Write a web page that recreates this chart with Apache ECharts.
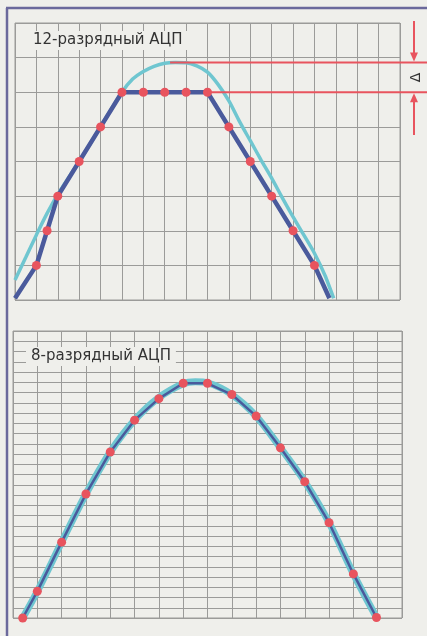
<!DOCTYPE html>
<html>
<head>
<meta charset="utf-8">
<script src="https://cdn.jsdelivr.net/npm/echarts@6/dist/echarts.min.js"></script>
<style>
html,body{margin:0;padding:0;background:#efefeb;}
#c{width:427px;height:636px;}
</style>
</head>
<body>
<div id="c"></div>
<script>
// ---- data (grid units) ----
const topTitle = '12-разрядный АЦП';
const bottomTitle = '8-разрядный АЦП';
// top: quantized/clipped samples (line), first/last are line ends without dots
const topSampleX = [0, 1, 1.5, 2, 3, 4, 5, 6, 7, 8, 9, 10, 11, 12, 13, 14, 14.7];
const topSampleY = [0.05, 1, 2, 3, 4, 5, 6, 6, 6, 6, 6, 5, 4, 3, 2, 1, 0.05];
// top: true signal
const topTrueX = [0, 0.5, 1, 1.5, 2, 3, 4, 5, 5.5, 6, 6.5, 7, 7.5, 8, 8.5, 9, 9.5, 10, 10.5, 11, 11.5, 12, 12.5, 13, 13.5, 14, 14.5, 14.9];
const topTrueY = [0.58, 1.23, 1.88, 2.5, 3.05, 4.0, 5.0, 6.0, 6.38, 6.6, 6.75, 6.84, 6.86, 6.85, 6.76, 6.58, 6.22, 5.75, 5.15, 4.6, 4.05, 3.52, 2.95, 2.4, 1.88, 1.35, 0.7, 0.05];
// Δ annotation levels
const deltaTopPoint = [7.25, 6.86];
const deltaBottomPoint = [9, 6];
// bottom: samples
const botSampleX = [0.4, 1, 2, 3, 4, 5, 6, 7, 8, 9, 10, 11, 12, 13, 14, 14.95];
const botSampleY = [0, 2.6, 7.4, 12.1, 16.2, 19.3, 21.4, 22.9, 22.9, 21.8, 19.7, 16.6, 13.3, 9.3, 4.3, 0.05];
// bottom: true signal
const botTrueX = [0.4, 1, 2, 3, 4, 5, 6, 7, 7.5, 8, 9, 10, 11, 12, 13, 14, 14.95];
const botTrueY = [0, 2.6, 7.4, 12.1, 16.2, 19.3, 21.5, 22.85, 23.05, 22.95, 21.8, 19.7, 16.6, 13.3, 9.3, 4.3, 0.05];

const pair = (xs, ys) => xs.map((x, i) => [x, ys[i]]);

const GRID = '#9b9b99';
const CYAN = '#6fc6d0';
const BLUE = '#4a5a9c';
const RED = '#e8545e';
const BG = '#efefeb';

const chart = echarts.init(document.getElementById('c'), null, {renderer: 'canvas'});

function axis(gi, max) {
  return {
    type: 'value', gridIndex: gi, min: 0, max: max, interval: 1,
    axisLine: {show: false}, axisTick: {show: false}, axisLabel: {show: false},
    splitLine: {show: true, lineStyle: {color: GRID, width: 1}}
  };
}

const titleStyle = {fontSize: 15, fontWeight: 'normal', color: '#333', fontFamily: 'DejaVu Sans'};

chart.setOption({
  backgroundColor: BG,
  animation: false,
  title: [
    {text: topTitle, left: 28, top: 31, padding: [2, 5, 2, 5], backgroundColor: BG, textStyle: titleStyle},
    {text: bottomTitle, left: 26, top: 347, padding: [2, 5, 2, 5], backgroundColor: BG, textStyle: titleStyle}
  ],
  grid: [
    {left: 15, top: 23, width: 385, height: 277, show: true, borderColor: GRID, borderWidth: 1, backgroundColor: 'transparent'},
    {left: 13, top: 331, width: 389, height: 287, show: true, borderColor: GRID, borderWidth: 1, backgroundColor: 'transparent'}
  ],
  xAxis: [axis(0, 18), axis(1, 16)],
  yAxis: [axis(0, 8), axis(1, 28)],
  series: [
    {type: 'line', xAxisIndex: 0, yAxisIndex: 0, data: pair(topTrueX, topTrueY), smooth: 0.3, showSymbol: false,
     lineStyle: {color: CYAN, width: 3.5}, z: 2},
    {type: 'line', xAxisIndex: 0, yAxisIndex: 0, data: pair(topSampleX, topSampleY), showSymbol: false,
     lineStyle: {color: BLUE, width: 4.5}, z: 3},
    {type: 'scatter', xAxisIndex: 0, yAxisIndex: 0, data: pair(topSampleX, topSampleY).slice(1, -1), symbolSize: 9,
     itemStyle: {color: RED, opacity: 1}, z: 4},
    {type: 'line', xAxisIndex: 1, yAxisIndex: 1, data: pair(botTrueX, botTrueY), smooth: 0.3, showSymbol: false,
     lineStyle: {color: CYAN, width: 7}, z: 2},
    {type: 'line', xAxisIndex: 1, yAxisIndex: 1, data: pair(botSampleX, botSampleY), showSymbol: false,
     lineStyle: {color: BLUE, width: 2.5}, z: 3},
    {type: 'scatter', xAxisIndex: 1, yAxisIndex: 1, data: pair(botSampleX, botSampleY), symbolSize: 9,
     itemStyle: {color: RED, opacity: 1}, z: 4}
  ]
});

// annotations from the library's scale
const p1 = chart.convertToPixel({gridIndex: 0}, deltaTopPoint);
const p2 = chart.convertToPixel({gridIndex: 0}, deltaBottomPoint);
const W = 427, ax = 414;
chart.setOption({
  graphic: [
    {type: 'line', shape: {x1: 7, y1: 8, x2: 7, y2: 636}, style: {stroke: '#6b699c', lineWidth: 2.5}, z: 10},
    {type: 'line', shape: {x1: 6, y1: 8, x2: W, y2: 8}, style: {stroke: '#6b699c', lineWidth: 2.5}, z: 10},
    {type: 'line', shape: {x1: p1[0], y1: p1[1], x2: W, y2: p1[1]}, style: {stroke: RED, lineWidth: 2}, z: 10},
    {type: 'line', shape: {x1: p2[0], y1: p2[1], x2: W, y2: p2[1]}, style: {stroke: RED, lineWidth: 2}, z: 10},
    {type: 'line', shape: {x1: ax, y1: 21, x2: ax, y2: p1[1] - 8}, style: {stroke: RED, lineWidth: 2}, z: 10},
    {type: 'polygon', shape: {points: [[ax - 4, p1[1] - 10], [ax + 4, p1[1] - 10], [ax, p1[1] - 1]]}, style: {fill: RED}, z: 10},
    {type: 'line', shape: {x1: ax, y1: 135, x2: ax, y2: p2[1] + 8}, style: {stroke: RED, lineWidth: 2}, z: 10},
    {type: 'polygon', shape: {points: [[ax - 4, p2[1] + 10], [ax + 4, p2[1] + 10], [ax, p2[1] + 1]]}, style: {fill: RED}, z: 10},
    {type: 'text', x: ax + 2, y: (p1[1] + p2[1]) / 2, rotation: Math.PI / 2,
     style: {text: 'Δ', fill: '#333', font: '14px DejaVu Sans', textAlign: 'center', textVerticalAlign: 'middle'}, z: 10}
  ]
});
</script>
</body>
</html>
